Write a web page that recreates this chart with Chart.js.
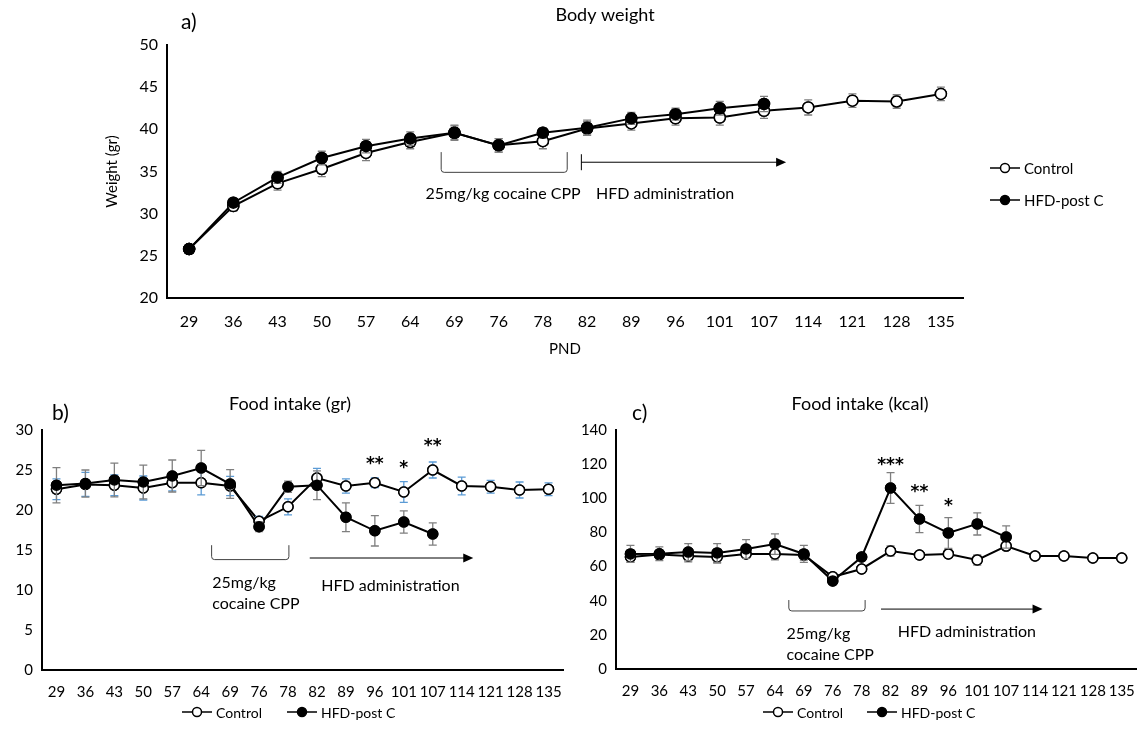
<!DOCTYPE html>
<html>
<head>
<meta charset="utf-8">
<script src="https://cdn.jsdelivr.net/npm/chart.js@4.4.0/dist/chart.umd.min.js"></script>
<style>
  body { margin: 0; background: #fff; width: 1148px; height: 733px; position: relative; overflow: hidden; }
  canvas { position: absolute; }
  #chartA { left: 0; top: 0; }
  #chartB { left: 0; top: 395px; }
  #chartC { left: 575px; top: 395px; }
</style>
</head>
<body>
<canvas id="chartA" width="1148" height="360"></canvas>
<canvas id="chartB" width="575" height="338"></canvas>
<canvas id="chartC" width="573" height="338"></canvas>
<script>
// x categories (postnatal day)
const pnd = ['29', '36', '43', '50', '57', '64', '69', '76', '78', '82', '89', '96', '101', '107', '114', '121', '128', '135'];

// a) body weight (gr)
const weightControl = [25.8, 30.9, 33.6, 35.3, 37.2, 38.5, 39.6, 38.1, 38.6, 40.1, 40.7, 41.3, 41.4, 42.2, 42.6, 43.4, 43.3, 44.2];
const weightHFD = [25.8, 31.3, 34.3, 36.6, 38.0, 38.9, 39.6, 38.1, 39.6, 40.2, 41.3, 41.8, 42.5, 43.0];
const weightControlErr = [0.3, 0.6, 0.8, 0.9, 0.9, 0.8, 0.8, 0.8, 0.9, 0.8, 0.8, 0.8, 0.9, 0.9, 0.9, 0.8, 0.8, 0.8];
const weightHFDErr = [0.3, 0.5, 0.7, 0.8, 0.8, 0.8, 0.9, 0.8, 0.6, 0.9, 0.7, 0.7, 0.8, 0.9];

// b) food intake (gr)
const foodGrControl = [22.6, 23.2, 23.1, 22.75, 23.4, 23.4, 23.0, 18.6, 20.4, 24.0, 23.0, 23.4, 22.25, 25.0, 23.0, 22.9, 22.5, 22.6];
const foodGrHFD = [23.1, 23.3, 23.75, 23.5, 24.25, 25.25, 23.25, 17.9, 22.9, 23.1, 19.1, 17.4, 18.5, 17.0];
const foodGrControlErr = [1.3, 1.5, 1.3, 1.5, 1.0, 1.5, 1.2, 0.6, 1.0, 1.2, 0.9, 0.6, 1.3, 1.0, 1.1, 0.8, 1.0, 0.8];
const foodGrHFDErr = [2.2, 1.7, 2.1, 2.1, 2.0, 2.2, 1.8, 0.6, 0.7, 1.8, 1.8, 1.9, 1.4, 1.4];

// c) food intake (kcal)
const foodKcalControl = [65.6, 67.0, 66.2, 65.6, 67.4, 67.4, 66.8, 54.0, 58.6, 69.1, 66.8, 67.4, 63.9, 72.0, 66.2, 66.2, 65.0, 65.0];
const foodKcalHFD = [67.4, 67.5, 68.5, 68.0, 70.3, 73.2, 67.4, 51.6, 65.6, 106, 87.9, 79.7, 85.0, 77.3];
const foodKcalControlErr = [3, 2.5, 3.5, 3.5, 2.5, 3.5, 3, 1.5, 2, 3, 2, 2, 3, 2, 2, 1, 2, 1];
const foodKcalHFDErr = [5, 4, 5, 5.5, 5.5, 6, 5, 1, 1, 9, 8, 9, 6.5, 6.5];

const FONT = 'Lato, "Open Sans", sans-serif';
const GREY = '#7f7f7f';
const BLUE = '#5b9bd5';

// fractional category index -> pixel
function catX(scale, i) {
  const p0 = scale.getPixelForValue(0);
  const p1 = scale.getPixelForValue(1);
  return p0 + i * (p1 - p0);
}

// error bars, points redrawn on top
const errorBars = {
  id: 'errorBars',
  afterDatasetsDraw(chart) {
    const ctx = chart.ctx;
    const y = chart.scales.y;
    chart.data.datasets.forEach((ds, di) => {
      const meta = chart.getDatasetMeta(di);
      ctx.save();
      ctx.strokeStyle = ds.errColor;
      ctx.lineWidth = 1.3;
      meta.data.forEach((pt, i) => {
        const e = ds.err[i];
        if (e == null) return;
        const yt = y.getPixelForValue(ds.data[i] + e);
        const yb = y.getPixelForValue(ds.data[i] - e);
        ctx.beginPath();
        ctx.moveTo(pt.x, yt); ctx.lineTo(pt.x, yb);
        ctx.moveTo(pt.x - 4, yt); ctx.lineTo(pt.x + 4, yt);
        ctx.moveTo(pt.x - 4, yb); ctx.lineTo(pt.x + 4, yb);
        ctx.stroke();
      });
      ctx.restore();
      meta.data.forEach(pt => pt.draw(ctx));
    });
  }
};

// texts, brackets, arrows, legend
const notes = {
  id: 'notes',
  afterDraw(chart, args, opts) {
    const ctx = chart.ctx;
    const xs = chart.scales.x, ys = chart.scales.y;
    ctx.save();
    ctx.fillStyle = '#000';
    ctx.textBaseline = 'middle';

    // title + panel letter
    ctx.textAlign = 'center';
    ctx.font = '18px ' + FONT;
    ctx.fillText(opts.title, opts.titleX, opts.titleY);
    ctx.textAlign = 'left';
    ctx.font = '21px ' + FONT;
    ctx.fillText(opts.letter, opts.letterX, opts.letterY);

    // bracket
    const b = opts.bracket;
    const bx1 = catX(xs, b.x1), bx2 = catX(xs, b.x2);
    const byt = ys.getPixelForValue(b.top), byb = ys.getPixelForValue(b.bottom);
    ctx.strokeStyle = '#404040';
    ctx.lineWidth = 1;
    ctx.beginPath();
    ctx.moveTo(bx1, byt);
    ctx.lineTo(bx1, byb - 3);
    ctx.quadraticCurveTo(bx1, byb, bx1 + 3, byb);
    ctx.lineTo(bx2 - 3, byb);
    ctx.quadraticCurveTo(bx2, byb, bx2, byb - 3);
    ctx.lineTo(bx2, byt);
    ctx.stroke();

    // arrow
    const a = opts.arrow;
    const ax1 = catX(xs, a.x1), ax2 = catX(xs, a.x2), ay = ys.getPixelForValue(a.y);
    ctx.strokeStyle = '#000';
    ctx.beginPath();
    ctx.moveTo(ax1, ay); ctx.lineTo(ax2 - 8, ay);
    if (a.bar) { ctx.moveTo(ax1, ay - 8); ctx.lineTo(ax1, ay + 8); }
    ctx.stroke();
    ctx.beginPath();
    ctx.moveTo(ax2, ay); ctx.lineTo(ax2 - 10, ay - 4.5); ctx.lineTo(ax2 - 10, ay + 4.5);
    ctx.closePath(); ctx.fill();

    // labels
    ctx.font = opts.noteFont + ' ' + FONT;
    opts.texts.forEach(t => {
      ctx.textAlign = t.align || 'left';
      ctx.fillText(t.text, catX(xs, t.x), ys.getPixelForValue(t.y));
    });

    // significance stars
    ctx.textAlign = 'center';
    ctx.font = 'bold 17px "DejaVu Sans", sans-serif';
    (opts.stars || []).forEach(s => {
      ctx.fillText(s.text, catX(xs, s.x), ys.getPixelForValue(s.y) + 3);
    });

    // legend
    const lg = opts.legend;
    ctx.font = lg.font + ' ' + FONT;
    ctx.textAlign = 'left';
    lg.items.forEach((it, k) => {
      const lx = lg.x + (lg.dx || 0) * k, ly = lg.y + (lg.dy || 0) * k;
      ctx.strokeStyle = '#000';
      ctx.lineWidth = 1.5;
      ctx.beginPath(); ctx.moveTo(lx, ly); ctx.lineTo(lx + 30, ly); ctx.stroke();
      ctx.beginPath(); ctx.arc(lx + 15, ly, 4.5, 0, Math.PI * 2);
      ctx.fillStyle = it.fill; ctx.fill(); ctx.stroke();
      ctx.fillStyle = '#000';
      ctx.fillText(it.text, lx + 34, ly + 1);
    });
    ctx.restore();
  }
};

function series(label, values, errs, fill, errColor, radius) {
  return {
    label: label,
    data: values,
    err: errs,
    errColor: errColor,
    borderColor: '#000',
    borderWidth: 2,
    pointRadius: radius,
    pointBorderWidth: 1.5,
    pointBackgroundColor: fill,
    pointBorderColor: '#000',
    tension: 0,
    fill: false
  };
}

function makeChart(id, datasets, yMin, yMax, yStep, geo, tickSize, notesOpts, yTitle, xTitle) {
  return new Chart(document.getElementById(id), {
    type: 'line',
    data: { labels: pnd, datasets: datasets },
    plugins: [errorBars, notes],
    options: {
      responsive: false,
      animation: false,
      layout: { padding: geo.padding },
      plugins: { legend: { display: false }, tooltip: { enabled: false }, notes: notesOpts },
      scales: {
        x: {
          offset: true,
          grid: { display: false, drawTicks: false, offset: true },
          border: { color: '#000', width: 2 },
          ticks: { color: '#000', font: { family: FONT, size: tickSize }, padding: geo.xPad, autoSkip: false, maxRotation: 0 },
          title: xTitle ? { display: true, text: xTitle, color: '#000', font: { family: FONT, size: 15 }, padding: { top: 0, bottom: 2 } } : { display: false },
          afterFit: s => { s.height = geo.xHeight; }
        },
        y: {
          min: yMin, max: yMax,
          grid: { display: false, drawTicks: false },
          border: { color: '#000', width: 2 },
          ticks: { stepSize: yStep, color: '#000', font: { family: FONT, size: tickSize }, padding: 9 },
          title: yTitle ? { display: true, text: yTitle, color: '#000', font: { family: FONT, size: 15 }, padding: { top: 8, bottom: 0 } } : { display: false },
          afterFit: s => { s.width = geo.yWidth; }
        }
      }
    }
  });
}

// a) body weight
makeChart('chartA', [
  series('Control', weightControl, weightControlErr, '#fff', GREY, 5.5),
  series('HFD-post C', weightHFD, weightHFDErr, '#000', GREY, 5.5)
], 20, 50, 5,
  { padding: { left: 95, right: 185, top: 45, bottom: 0 }, yWidth: 72, xHeight: 62, xPad: 14 }, 16,
  {
    title: 'Body weight', titleX: 605, titleY: 15, letter: 'a)', letterX: 181, letterY: 22,
    bracket: { x1: 5.7, x2: 8.55, top: 37.3, bottom: 34.9 },
    arrow: { x1: 8.87, x2: 13.5, y: 36.1, bar: true },
    noteFont: '16px',
    texts: [
      { text: '25mg/kg cocaine CPP', x: 7.1, y: 32.4, align: 'center' },
      { text: 'HFD administration', x: 9.2, y: 32.4 }
    ],
    legend: { font: '15px', x: 990, y: 168, dy: 32, items: [{ text: 'Control', fill: '#fff' }, { text: 'HFD-post C', fill: '#000' }] }
  }, 'Weight (gr)', 'PND');

// b) food intake (gr)
makeChart('chartB', [
  series('Control', foodGrControl, foodGrControlErr, '#fff', BLUE, 5),
  series('HFD-post C', foodGrHFD, foodGrHFDErr, '#000', GREY, 5)
], 0, 30, 5,
  { padding: { left: 0, right: 12, top: 35, bottom: 0 }, yWidth: 42, xHeight: 63, xPad: 13 }, 15,
  {
    title: 'Food intake (gr)', titleX: 290, titleY: 9, letter: 'b)', letterX: 52, letterY: 18,
    bracket: { x1: 5.36, x2: 8.03, top: 15.6, bottom: 13.8 },
    arrow: { x1: 8.75, x2: 14.4, y: 14.0, bar: false },
    noteFont: '16px',
    texts: [
      { text: '25mg/kg', x: 5.38, y: 10.9 },
      { text: 'cocaine CPP', x: 5.38, y: 8.3 },
      { text: 'HFD administration', x: 9.15, y: 10.5 }
    ],
    stars: [
      { text: '**', x: 11, y: 26.1 },
      { text: '*', x: 12, y: 25.6 },
      { text: '**', x: 13, y: 28.3 }
    ],
    legend: { font: '14px', x: 182, y: 317, dx: 105, items: [{ text: 'Control', fill: '#fff' }, { text: 'HFD-post C', fill: '#000' }] }
  }, null, null);

// c) food intake (kcal)
makeChart('chartC', [
  series('Control', foodKcalControl, foodKcalControlErr, '#fff', GREY, 5),
  series('HFD-post C', foodKcalHFD, foodKcalHFDErr, '#000', GREY, 5)
], 0, 140, 20,
  { padding: { left: 0, right: 7, top: 35, bottom: 0 }, yWidth: 41, xHeight: 64, xPad: 13 }, 15,
  {
    title: 'Food intake (kcal)', titleX: 285, titleY: 9, letter: 'c)', letterX: 57, letterY: 18,
    bracket: { x1: 5.48, x2: 8.12, top: 40.4, bottom: 34.0 },
    arrow: { x1: 8.67, x2: 14.26, y: 35.1, bar: false },
    noteFont: '16px',
    texts: [
      { text: '25mg/kg', x: 5.4, y: 20.5 },
      { text: 'cocaine CPP', x: 5.4, y: 8.2 },
      { text: 'HFD administration', x: 9.25, y: 21.7 }
    ],
    stars: [
      { text: '***', x: 9, y: 120.7 },
      { text: '**', x: 10, y: 105 },
      { text: '*', x: 11, y: 97 }
    ],
    legend: { font: '14px', x: 188, y: 317, dx: 104, items: [{ text: 'Control', fill: '#fff' }, { text: 'HFD-post C', fill: '#000' }] }
  }, null, null);
</script>
</body>
</html>
